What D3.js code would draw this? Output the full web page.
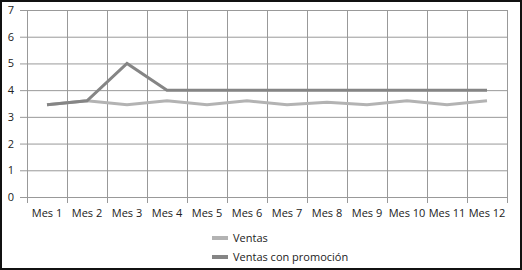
<!DOCTYPE html>
<html>
<head>
<meta charset="utf-8">
<script src="https://cdn.jsdelivr.net/npm/d3@7"></script>
<style>
  body { margin: 0; background: #fff; }
  svg { display: block; font-family: "Open Sans", "Noto Sans", sans-serif; }
</style>
</head>
<body>
<svg id="chart" width="522" height="270"></svg>
<script>
const meses = ["Mes 1", "Mes 2", "Mes 3", "Mes 4", "Mes 5", "Mes 6",
  "Mes 7", "Mes 8", "Mes 9", "Mes 10", "Mes 11", "Mes 12"];
const ventas = [3.45, 3.6, 3.45, 3.6, 3.45, 3.6, 3.45, 3.55, 3.45, 3.6, 3.45, 3.6];
const ventasPromo = [3.45, 3.6, 5, 4, 4, 4, 4, 4, 4, 4, 4, 4];
const yTicks = [0, 1, 2, 3, 4, 5, 6, 7];
const series = [
  { nombre: "Ventas", valores: ventas, color: "#b3b3b3" },
  { nombre: "Ventas con promoción", valores: ventasPromo, color: "#858585" }
];

const svg = d3.select("#chart");
const W = 522, H = 270;
const m = { left: 27, right: 15, top: 10, bottom: 73 };

// borde exterior
svg.append("rect")
  .attr("x", 1).attr("y", 1)
  .attr("width", W - 2).attr("height", H - 2)
  .attr("fill", "#fff").attr("stroke", "#111").attr("stroke-width", 2);

const x = d3.scaleBand().domain(meses).range([m.left, W - m.right]);
const y = d3.scaleLinear().domain([0, 7]).range([H - m.bottom, m.top]);

// rejilla horizontal
svg.append("g").selectAll("line")
  .data(yTicks)
  .enter().append("line")
  .attr("x1", m.left - 7).attr("x2", W - m.right)
  .attr("y1", (d) => y(d) + 0.5).attr("y2", (d) => y(d) + 0.5)
  .attr("stroke", "#999").attr("stroke-width", 1);

// rejilla vertical (límites de categoría)
const bordes = meses.map((d) => x(d)).concat([W - m.right]);
svg.append("g").selectAll("line")
  .data(bordes)
  .enter().append("line")
  .attr("x1", (d) => Math.round(d) + 0.5).attr("x2", (d) => Math.round(d) + 0.5)
  .attr("y1", m.top).attr("y2", H - m.bottom + 6)
  .attr("stroke", "#999").attr("stroke-width", 1);

// etiquetas eje y
svg.append("g").selectAll("text")
  .data(yTicks)
  .enter().append("text")
  .attr("x", 14).attr("y", (d) => y(d) + 4)
  .attr("text-anchor", "end")
  .attr("font-size", 11).attr("fill", "#222")
  .text((d) => d);

// etiquetas eje x
svg.append("g").selectAll("text")
  .data(meses)
  .enter().append("text")
  .attr("x", (d) => x(d) + x.bandwidth() / 2)
  .attr("y", H - m.bottom + 20)
  .attr("text-anchor", "middle")
  .attr("font-size", 11).attr("fill", "#222")
  .text((d) => d);

// líneas
const linea = d3.line()
  .x((d, i) => x(meses[i]) + x.bandwidth() / 2)
  .y((d) => y(d));

svg.append("g").selectAll("path")
  .data(series)
  .enter().append("path")
  .attr("d", (d) => linea(d.valores))
  .attr("fill", "none")
  .attr("stroke", (d) => d.color)
  .attr("stroke-width", 3)
  .attr("stroke-linejoin", "miter");

// leyenda
const ley = svg.append("g").selectAll("g")
  .data(series)
  .enter().append("g")
  .attr("transform", (d, i) => `translate(212, ${238 + i * 19})`);

ley.append("line")
  .attr("x1", 0).attr("x2", 16)
  .attr("y1", 0).attr("y2", 0)
  .attr("stroke", (d) => d.color).attr("stroke-width", 4);

ley.append("text")
  .attr("x", 21).attr("y", 4)
  .attr("font-size", 11).attr("fill", "#222")
  .text((d) => d.nombre);
</script>
</body>
</html>
